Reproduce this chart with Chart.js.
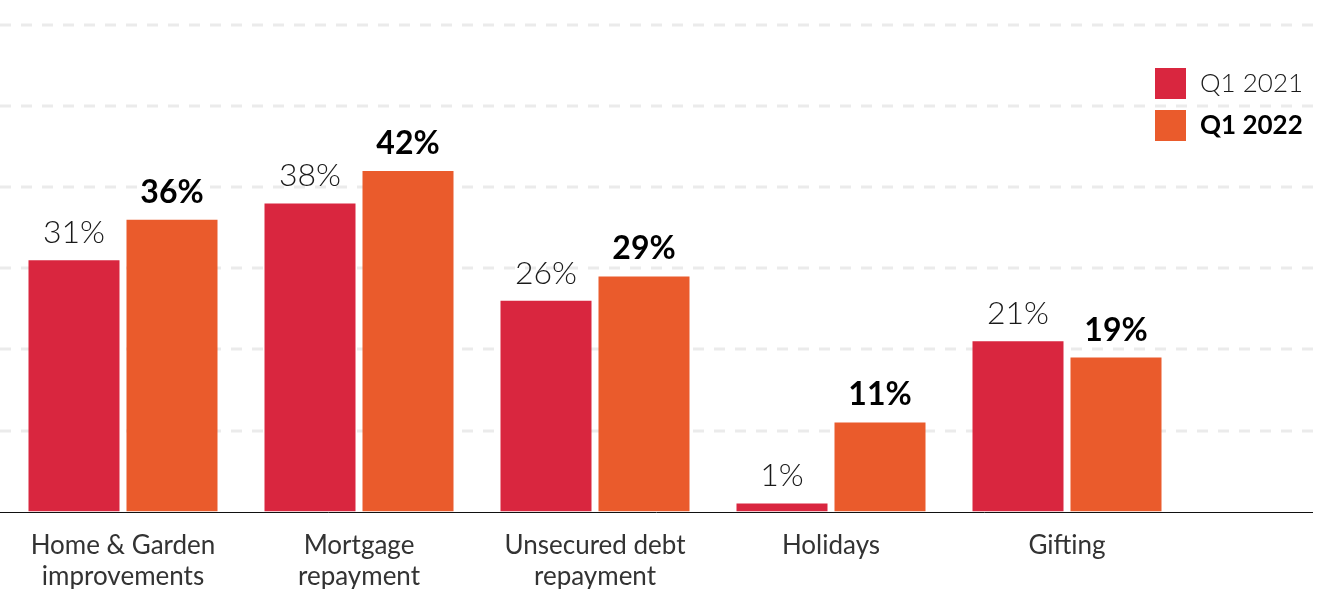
<!DOCTYPE html>
<html>
<head>
<meta charset="utf-8">
<script src="https://cdn.jsdelivr.net/npm/chart.js@4"></script>
<style>
  html, body { margin: 0; padding: 0; background: #fff; overflow: hidden; }
  #wrap { position: relative; width: 1329px; height: 610px; }
</style>
</head>
<body>
<div id="wrap"><canvas id="chart"></canvas></div>
<script>
// data
const categories = [
    ['Home & Garden', 'improvements'],
    ['Mortgage', 'repayment'],
    ['Unsecured debt', 'repayment'],
    ['Holidays'],
    ['Gifting']
];
const q1_2021 = [31, 38, 26, 1, 21];
const q1_2022 = [36, 42, 29, 11, 19];
const seriesNames = ['Q1 2021', 'Q1 2022'];
const yTicks = [0, 10, 20, 30, 40, 50, 60];

const RED = '#d9263f';
const ORANGE = '#ea5b2c';
const FONT = 'Lato, "Open Sans", sans-serif';

// dashed grid across the whole width + black baseline
const fullGrid = {
    id: 'fullGrid',
    beforeDatasetsDraw(chart) {
        const { ctx, scales: { y } } = chart;
        ctx.save();
        ctx.lineWidth = 3;
        ctx.strokeStyle = '#ebebeb';
        ctx.setLineDash([11, 10]);
        yTicks.forEach(v => {
            if (v === 0) return;
            const py = Math.round(y.getPixelForValue(v));
            ctx.beginPath();
            ctx.moveTo(0, py);
            ctx.lineTo(1313, py);
            ctx.stroke();
        });
        ctx.restore();
    },
    afterDatasetsDraw(chart) {
        const { ctx, scales: { y } } = chart;
        const py = Math.round(y.getPixelForValue(0)) + 0.5;
        ctx.save();
        ctx.strokeStyle = '#111';
        ctx.lineWidth = 1;
        ctx.beginPath();
        ctx.moveTo(0, py);
        ctx.lineTo(1313, py);
        ctx.stroke();
        ctx.restore();
    }
};

// value labels above each bar
const valueLabels = {
    id: 'valueLabels',
    afterDatasetsDraw(chart) {
        const { ctx } = chart;
        ctx.save();
        ctx.textAlign = 'center';
        ctx.textBaseline = 'alphabetic';
        chart.data.datasets.forEach((ds, i) => {
            const meta = chart.getDatasetMeta(i);
            ctx.font = (i === 0 ? '300 ' : 'bold ') + '32px ' + FONT;
            ctx.fillStyle = i === 0 ? '#1a1a1a' : '#000';
            meta.data.forEach((bar, j) => {
                ctx.fillText(ds.data[j] + '%', bar.x, bar.y - 17);
            });
        });
        ctx.restore();
    }
};

// legend at the top right
const sideLegend = {
    id: 'sideLegend',
    afterDraw(chart) {
        const { ctx } = chart;
        ctx.save();
        ctx.textBaseline = 'middle';
        chart.data.datasets.forEach((ds, i) => {
            const top = 68 + i * 42;
            ctx.fillStyle = ds.backgroundColor;
            ctx.fillRect(1155, top, 31, 31);
            ctx.font = (i === 0 ? '300 ' : 'bold ') + '26px ' + FONT;
            ctx.fillStyle = i === 0 ? '#1a1a1a' : '#000';
            ctx.fillText(ds.label, 1200, top + 16);
        });
        ctx.restore();
    }
};

new Chart(document.getElementById('chart'), {
    type: 'bar',
    data: {
        labels: categories,
        datasets: [
            { label: seriesNames[0], data: q1_2021, backgroundColor: RED },
            { label: seriesNames[1], data: q1_2022, backgroundColor: ORANGE }
        ]
    },
    options: {
        responsive: true,
        maintainAspectRatio: false,
        animation: false,
        categoryPercentage: 0.8305,
        barPercentage: 0.9286,
        layout: { padding: { left: 5, right: 144, top: 25, bottom: 0 } },
        scales: {
            x: {
                grid: { display: false, drawTicks: false },
                border: { display: false },
                ticks: {
                    color: '#333',
                    padding: 18,
                    font: { family: FONT, size: 26, lineHeight: 1.2 },
                    maxRotation: 0,
                    autoSkip: false
                }
            },
            y: {
                display: false,
                min: 0,
                max: 60,
                ticks: { stepSize: 10 }
            }
        },
        plugins: {
            legend: { display: false },
            tooltip: { enabled: false }
        }
    },
    plugins: [fullGrid, valueLabels, sideLegend]
});
</script>
</body>
</html>
